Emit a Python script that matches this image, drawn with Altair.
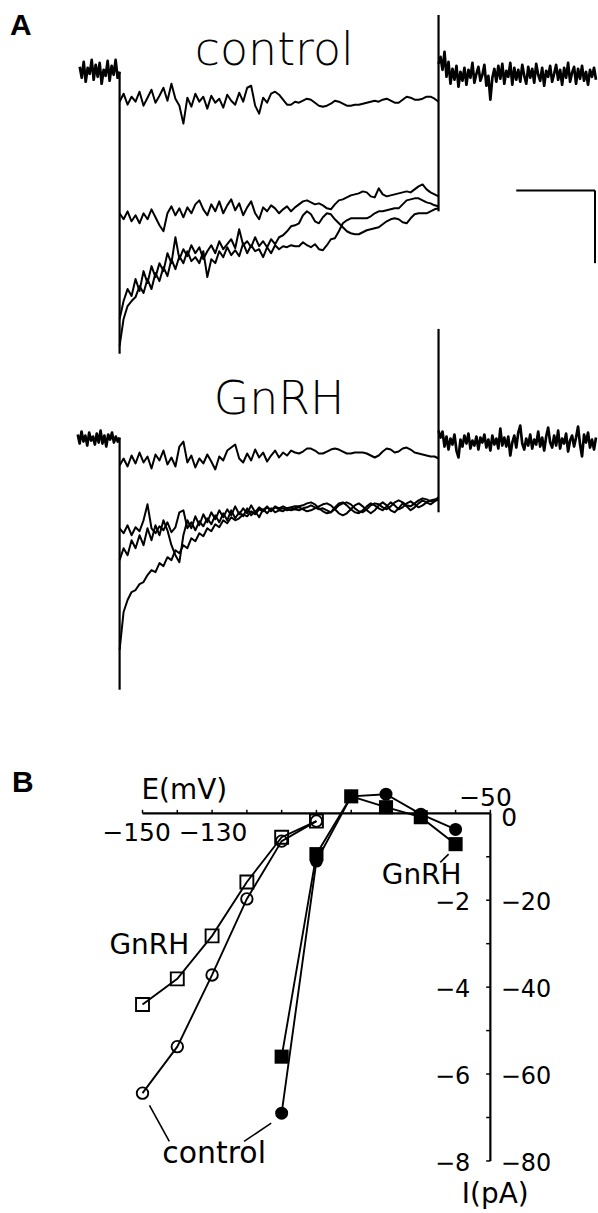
import altair as alt
import numpy as np
import pandas as pd

# ---------------- Panel A : digitised current sweeps (pA-like units) ----------------
# sweeps sampled every 5 ms during the 400 ms hyperpolarising step
ctl_sweep_1 = [-3.0,-2.2,-3.3,-2.5,-3.0,-2.0,-3.4,-2.6,-1.8,-3.1,
               -2.4,-1.6,-2.9,-1.2,-2.7,-3.4,-5.2,-2.6,-3.5,-2.2,
               -3.0,-2.5,-3.7,-2.4,-3.1,-2.7,-3.6,-2.3,-2.9,-3.3,
               -2.1,-3.0,-1.6,-1.4,-3.4,-4.2,-2.6,-3.1,-2.2,-2.0,
               -2.3,-2.8,-3.3,-3.3,-3.0,-3.1,-2.9,-2.7,-2.8,-3.1,
               -3.4,-3.5,-3.4,-3.2,-2.9,-3.0,-3.2,-3.4,-3.4,-3.3,
               -3.3,-3.2,-3.1,-3.0,-2.9,-3.0,-2.8,-2.7,-2.9,-3.1,
               -3.1,-2.8,-2.5,-2.6,-2.8,-2.8,-2.7,-2.5,-2.5,-2.7,
               -3.0]
ctl_sweep_2 = [-14.2,-14.8,-14.0,-15.0,-14.4,-15.2,-14.2,-14.8,-13.8,-14.6,
               -15.4,-16.0,-14.2,-13.5,-14.4,-13.7,-14.6,-13.6,-14.2,-13.3,
               -12.9,-13.8,-14.4,-13.3,-14.0,-13.0,-14.2,-13.4,-12.8,-13.9,
               -13.2,-14.4,-13.6,-13.0,-14.2,-14.8,-13.6,-14.0,-13.4,-13.7,
               -14.2,-13.8,-13.5,-14.0,-13.6,-13.3,-13.0,-12.9,-13.1,-13.3,
               -13.2,-13.4,-13.7,-13.8,-13.3,-12.9,-12.8,-12.6,-12.4,-12.3,
               -12.2,-12.0,-12.1,-12.5,-12.6,-11.7,-12.3,-12.5,-12.4,-12.3,
               -12.2,-12.1,-12.0,-12.1,-11.8,-11.5,-11.3,-11.8,-12.1,-12.3,
               -12.5]
ctl_sweep_3 = [-24.8,-23.0,-21.8,-22.5,-20.8,-22.0,-20.0,-21.2,-19.5,-20.6,
               -19.2,-20.0,-18.2,-19.2,-16.6,-18.8,-17.8,-18.5,-17.4,-18.2,
               -17.6,-18.8,-18.0,-17.4,-18.2,-17.0,-17.8,-17.3,-16.8,-17.7,
               -15.8,-17.4,-17.0,-17.6,-16.6,-17.5,-17.0,-17.6,-16.8,-17.3,
               -16.6,-16.4,-16.0,-15.5,-15.4,-15.2,-14.4,-14.0,-14.3,-15.0,
               -15.2,-14.6,-14.2,-14.3,-14.8,-15.2,-15.6,-16.0,-16.2,-16.3,
               -16.3,-16.1,-15.9,-15.8,-15.7,-15.6,-15.3,-15.0,-14.8,-14.7,
               -14.8,-15.1,-15.2,-14.7,-14.3,-14.2,-14.2,-14.2,-14.0,-13.8,
               -13.7]
ctl_sweep_4 = [-27.5,-24.8,-23.5,-23.0,-22.6,-21.5,-22.2,-20.8,-21.8,-20.2,
               -21.0,-19.6,-20.5,-18.8,-19.8,-18.5,-19.2,-18.0,-19.0,-18.6,
               -19.2,-18.0,-20.6,-18.8,-19.2,-18.0,-18.6,-17.6,-18.4,-17.9,
               -18.5,-17.2,-18.2,-17.4,-18.0,-17.8,-18.6,-17.6,-18.2,-17.4,
               -17.8,-17.5,-17.6,-17.4,-17.5,-17.5,-17.1,-17.4,-17.6,-17.3,
               -17.8,-17.9,-17.4,-16.8,-16.7,-16.0,-15.2,-14.9,-14.7,-14.7,
               -14.7,-14.7,-14.7,-14.5,-14.2,-14.0,-14.0,-13.9,-13.8,-13.7,
               -13.7,-13.3,-12.9,-12.8,-12.7,-12.7,-12.9,-13.1,-13.2,-13.4,
               -13.5]

gnrh_sweep_1 = [-2.5,-1.8,-2.6,-1.5,-2.3,-1.2,-2.2,-1.6,-2.8,-1.4,
                -2.0,-1.0,-2.4,-1.7,-2.6,-0.6,-0.1,-2.2,-1.5,-2.7,
                -1.8,-2.3,-1.4,-2.1,-2.9,-1.6,-2.0,-1.0,-0.7,-0.4,
                -1.8,-2.2,-1.3,-2.0,-0.9,-1.7,-1.2,-2.1,-1.5,-1.0,
                -1.7,-1.2,-1.5,-1.0,-1.2,-1.3,-1.1,-0.8,-0.8,-1.0,
                -1.3,-1.3,-1.1,-0.9,-0.8,-0.9,-1.1,-1.3,-1.3,-1.2,
                -1.2,-1.2,-1.3,-1.5,-1.7,-1.5,-1.1,-0.8,-0.9,-1.2,
                -1.1,-0.8,-0.7,-0.9,-1.2,-1.3,-1.4,-1.5,-1.6,-1.6,
                -1.8]
gnrh_sweep_2 = [-8.8,-9.3,-8.5,-9.5,-8.7,-9.1,-8.0,-6.4,-8.8,-9.3,
                -8.6,-9.0,-8.2,-9.2,-8.7,-7.2,-7.0,-8.8,-8.2,-9.0,
                -8.1,-8.6,-7.8,-8.4,-7.5,-8.2,-7.3,-8.0,-7.0,-7.8,
                -7.2,-7.6,-6.8,-7.5,-7.1,-7.7,-6.9,-7.3,-6.8,-7.2,
                -7.0,-7.1,-6.8,-7.0,-6.9,-7.0,-6.8,-6.7,-6.5,-6.7,
                -6.9,-6.8,-7.0,-7.2,-6.7,-6.3,-6.2,-6.5,-6.9,-7.2,
                -7.3,-7.0,-6.6,-6.3,-6.5,-6.8,-7.0,-6.6,-6.2,-6.5,
                -6.9,-6.7,-6.3,-6.1,-6.4,-6.7,-6.5,-6.2,-6.0,-5.9,
                -6.0]
gnrh_sweep_3 = [-12.0,-10.8,-11.5,-10.0,-10.8,-9.5,-10.5,-8.8,-10.0,-8.5,
                -9.5,-8.0,-9.0,-10.5,-11.5,-12.2,-9.5,-8.0,-8.8,-7.6,
                -8.5,-7.4,-8.2,-7.2,-7.9,-7.0,-7.7,-6.9,-7.5,-6.6,
                -7.4,-6.8,-7.3,-6.5,-7.2,-6.7,-7.0,-6.6,-7.1,-6.7,
                -6.9,-6.8,-7.0,-6.9,-6.8,-6.7,-6.9,-7.1,-7.0,-6.8,
                -6.6,-6.4,-6.3,-6.5,-6.9,-7.3,-7.5,-7.3,-6.9,-6.5,
                -6.3,-6.6,-7.0,-7.3,-7.0,-6.5,-6.2,-6.5,-7.0,-7.2,
                -6.8,-6.3,-6.6,-7.0,-6.7,-6.3,-6.0,-6.2,-6.4,-6.1,
                -5.9]
gnrh_sweep_4 = [-21.0,-17.2,-16.0,-15.2,-15.0,-14.4,-14.2,-13.5,-13.0,-13.2,
                -12.3,-12.6,-11.7,-12.0,-11.0,-11.3,-10.5,-10.8,-9.8,-10.1,
                -9.3,-9.6,-8.8,-9.1,-8.4,-8.7,-8.0,-8.3,-7.7,-8.0,
                -7.8,-7.4,-7.6,-7.1,-7.4,-6.9,-7.1,-6.7,-7.0,-6.6,
                -6.8,-6.6,-6.8,-6.7,-6.6,-6.6,-6.5,-6.3,-6.2,-6.4,
                -6.8,-7.1,-7.3,-7.2,-6.9,-6.5,-6.3,-6.2,-6.4,-6.8,
                -7.1,-7.2,-6.9,-6.5,-6.3,-6.4,-6.7,-6.9,-6.6,-6.2,
                -6.0,-6.2,-6.5,-6.6,-6.3,-6.0,-5.8,-5.9,-6.1,-6.0,
                -5.7]

# holding current before / after the step (2.5 ms sampling)
ctl_hold_pre = [0.5,-0.6,1.0,-1.0,0.4,-0.2,1.2,-0.8,0.7,-0.5,0.9,-1.2,0.2,-0.4,
                1.1,-0.9,0.6,-0.3,1.2,-0.6,0.0]
ctl_hold_post = [0.8,1.5,0.2,2.0,-0.5,1.0,-1.2,0.3,-0.8,0.6,-1.5,0.0,-0.9,0.4,-1.3,
                 0.2,-0.6,0.9,-1.1,-0.2,0.5,-0.9,-0.3,0.7,-1.4,-0.4,-2.8,-0.6,0.3,-1.0,
                 0.6,-0.7,0.8,-1.2,0.1,-0.5,0.9,-1.3,0.4,-0.8,0.2,-1.0,0.7,-0.4,-1.2,
                 0.5,-0.6,0.3,-1.1,0.8,-0.3,-0.9,0.4,-1.4,0.1,-0.5,0.6,-1.0,-0.2,0.7,
                 -0.8,0.2,-1.3,0.4,-0.6,0.9,-1.0,-0.1,0.5,-1.2,0.3,-0.7,0.6,-0.9,0.0,
                 -1.3,0.2,-0.5,0.4,-0.8]
gnrh_hold_pre = [0.6,-0.3,0.9,-0.1,0.5,-0.5,0.8,0.0,0.4,-0.4,0.7,-0.2,1.0,-0.3,0.5,
                 -0.6,0.6,0.1,0.8,-0.2,0.4,-0.1,0.3]
gnrh_hold_post = [1.0,0.3,0.9,-0.6,0.4,-0.9,0.2,-0.4,0.6,-1.0,-1.7,0.1,-0.6,0.5,-0.3,
                  0.7,-0.8,0.0,-0.5,0.4,-0.9,0.3,-0.2,0.6,-0.7,0.1,-1.0,0.5,-0.4,0.2,
                  -0.8,1.2,-0.5,0.3,-0.6,0.4,-1.5,-0.2,0.5,-0.7,0.8,1.5,-0.3,-0.9,0.2,
                  -0.5,0.6,-0.8,0.1,-0.4,0.9,-0.6,0.3,-1.0,0.4,1.3,-0.2,-0.7,0.5,-0.5,
                  1.0,-0.8,0.2,-0.3,0.7,-1.1,0.0,0.5,-0.6,0.3,1.4,-0.4,-1.6,0.6,-0.2,
                  0.8,-0.7,0.1,-0.9,0.3]

# capacitive transients at step onset (t=0) and offset (t=400): [low, high]
edge_t = [0, 400]
ctl_edge_lo = [-28.3, -14.0]
ctl_edge_hi = [0.0, 5.7]
gnrh_edge_lo = [-25.0, -7.2]
gnrh_edge_hi = [0.3, 11.2]

# calibration bar (100 ms horizontal)
bar_t = [497.5, 596.25]
bar_I = [-11.9, -19.2]

# ---------------- Panel B : I-V relations ----------------
E_open = [-150, -140, -130, -120, -110, -100]
I_open_gnrh = [-4.40, -3.81, -2.82, -1.58, -0.55, -0.18]
I_open_ctl = [-6.44, -5.37, -3.72, -1.97, -0.64, -0.18]
E_closed = [-110, -100, -90, -80, -70, -60]
I_closed_gnrh = [-5.60, -0.94, 0.39, 0.14, -0.09, -0.71]
I_closed_ctl = [-6.90, -1.10, 0.39, 0.44, -0.02, -0.37]

E_ticks = [-150, -140, -130, -120, -110, -100, -90, -80, -70, -60, -50]
I_ticks = [-1, -2, -3, -4, -5, -6, -7, -8]
I_left_labels = ["−2", "−4", "−6", "−8"]
I_left_vals = [-2, -4, -6, -8]
I_right_labels = ["−20", "−40", "−60", "−80"]

# ================= build Panel A =================
W = 598
xA = alt.Scale(domain=[-150, 597.5])
yC = alt.Scale(domain=[-67, 7])
yG = alt.Scale(domain=[-30, 44])


def trace_frame(sweeps, pre, post, pre_start, prefix):
    parts = []
    for k, vals in enumerate(sweeps):
        parts.append(pd.DataFrame({"t": np.linspace(0, 400, len(vals)), "I": vals,
                                   "sweep": f"{prefix}s{k}", "kind": "sweep"}))
    parts.append(pd.DataFrame({"t": np.linspace(pre_start, 0, len(pre)), "I": pre,
                               "sweep": f"{prefix}pre", "kind": "hold"}))
    parts.append(pd.DataFrame({"t": np.linspace(400, 597.5, len(post)), "I": post,
                               "sweep": f"{prefix}post", "kind": "hold"}))
    return pd.concat(parts, ignore_index=True)


def panel_a_layer(df, lo, hi, yscale, label, label_t, label_I, extra=None):
    enc = dict(x=alt.X("t:Q", scale=xA, axis=None),
               y=alt.Y("I:Q", scale=yscale, axis=None),
               detail="sweep:N", order="t:Q")
    sweeps = alt.Chart(df).transform_filter(alt.datum.kind == "sweep").mark_line(
        color="black", strokeWidth=2.0, strokeJoin="round").encode(**enc)
    holds = alt.Chart(df).transform_filter(alt.datum.kind == "hold").mark_line(
        color="black", strokeWidth=2.7, strokeJoin="round").encode(**enc)
    edges = alt.Chart(pd.DataFrame({"t": edge_t, "lo": lo, "hi": hi})).mark_rule(
        color="black", strokeWidth=2.2).encode(
        x=alt.X("t:Q", scale=xA, axis=None),
        y=alt.Y("lo:Q", scale=yscale, axis=None), y2="hi:Q")
    txt = alt.Chart(pd.DataFrame({"t": [label_t], "I": [label_I], "s": [label]})).mark_text(
        font="DejaVu Sans", fontWeight=200, fontSize=46, align="center",
        baseline="alphabetic", color="black").encode(
        x=alt.X("t:Q", scale=xA, axis=None),
        y=alt.Y("I:Q", scale=yscale, axis=None), text="s:N")
    layers = [sweeps, holds, edges, txt]
    if extra is not None:
        layers += extra
    return alt.layer(*layers)


ctl_df = trace_frame([ctl_sweep_1, ctl_sweep_2, ctl_sweep_3, ctl_sweep_4],
                     ctl_hold_pre, ctl_hold_post, -50, "c")
gnrh_df = trace_frame([gnrh_sweep_1, gnrh_sweep_2, gnrh_sweep_3, gnrh_sweep_4],
                      gnrh_hold_pre, gnrh_hold_post, -52.5, "g")

bar_df = pd.DataFrame({"t": [bar_t[0], bar_t[1]], "t2": [bar_t[1], bar_t[1]],
                       "I": [bar_I[0], bar_I[0]], "I2": [bar_I[0], bar_I[1]]})
bar = alt.Chart(bar_df).mark_rule(color="black", strokeWidth=2).encode(
    x=alt.X("t:Q", scale=xA, axis=None), x2="t2:Q",
    y=alt.Y("I:Q", scale=yC, axis=None), y2="I2:Q")

letterA = alt.Chart(pd.DataFrame({"t": [-137.5], "I": [3.7], "s": ["A"]})).mark_text(
    font="Liberation Sans", fontWeight="bold", fontSize=30, align="left",
    baseline="alphabetic", color="black").encode(
    x=alt.X("t:Q", scale=xA, axis=None),
    y=alt.Y("I:Q", scale=yC, axis=None), text="s:N")

ctl_layer = panel_a_layer(ctl_df, ctl_edge_lo, ctl_edge_hi, yC, "control", 194, 0.7,
                          extra=[bar, letterA])
gnrh_layer = panel_a_layer(gnrh_df, gnrh_edge_lo, gnrh_edge_hi, yG, "GnRH", 200, 2.7)

panelA = alt.layer(ctl_layer, gnrh_layer).resolve_scale(y="independent").properties(
    width=W, height=740)

# ================= build Panel B =================
xB = alt.Scale(domain=[-190.97, -19.63])
yB = alt.Scale(domain=[-9.151, 1.697])


def seg_chart(df, width=2):
    return alt.Chart(df).mark_rule(color="black", strokeWidth=width).encode(
        x=alt.X("E:Q", scale=xB, axis=None), x2="E2:Q",
        y=alt.Y("I:Q", scale=yB, axis=None), y2="I2:Q")


axes_df = pd.DataFrame({"E": [E_ticks[0], E_ticks[-1]], "E2": [E_ticks[-1], E_ticks[-1]],
                        "I": [0, 0], "I2": [0, I_ticks[-1]]})
xtick_df = pd.DataFrame({"E": E_ticks, "E2": E_ticks, "I": [0] * len(E_ticks),
                         "I2": [0.08] * len(E_ticks)})
ytick_df = pd.DataFrame({"E": [-50] * len(I_ticks), "E2": [-51.2] * len(I_ticks),
                         "I": I_ticks, "I2": I_ticks})
conn_df = pd.DataFrame({"E": [-64.4, -148.0, -113.0], "E2": [-62.0, -142.3, -120.8],
                        "I": [-1.13, -6.72, -7.13], "I2": [-0.94, -7.55, -7.55]})

iv_df = pd.concat([
    pd.DataFrame({"E": E_open, "I": I_open_ctl, "series": "open_ctl"}),
    pd.DataFrame({"E": E_open, "I": I_open_gnrh, "series": "open_gnrh"}),
    pd.DataFrame({"E": E_closed, "I": I_closed_ctl, "series": "closed_ctl"}),
    pd.DataFrame({"E": E_closed, "I": I_closed_gnrh, "series": "closed_gnrh"}),
], ignore_index=True)

iv_lines = alt.Chart(iv_df).mark_line(color="black", strokeWidth=1.9).encode(
    x=alt.X("E:Q", scale=xB, axis=None),
    y=alt.Y("I:Q", scale=yB, axis=None),
    detail="series:N", order="E:Q")


def pts(series, shape, filled, size):
    base = alt.Chart(iv_df).transform_filter(alt.datum.series == series)
    if filled:
        mk = base.mark_point(shape=shape, filled=True, color="black", size=size, opacity=1)
    else:
        mk = base.mark_point(shape=shape, filled=False, stroke="black", strokeWidth=1.9,
                             size=size, opacity=1)
    return mk.encode(x=alt.X("E:Q", scale=xB, axis=None),
                     y=alt.Y("I:Q", scale=yB, axis=None))


def btext(texts, Es, Is, align="left", size=25, weight="normal", font="DejaVu Sans",
          baseline="alphabetic", dy=0):
    df = pd.DataFrame({"E": Es, "I": Is, "s": texts})
    return alt.Chart(df).mark_text(font=font, fontSize=size, fontWeight=weight, align=align,
                                   baseline=baseline, dy=dy, color="black").encode(
        x=alt.X("E:Q", scale=xB, axis=None),
        y=alt.Y("I:Q", scale=yB, axis=None), text="s:N")


panelB = alt.layer(
    seg_chart(axes_df, 2.2),
    seg_chart(xtick_df, 1.5),
    seg_chart(ytick_df, 1.5),
    seg_chart(conn_df, 1.6),
    iv_lines,
    pts("open_ctl", "circle", False, 133),
    pts("open_gnrh", "square", False, 169),
    pts("closed_ctl", "circle", True, 170),
    pts("closed_gnrh", "square", True, 200),
    btext(["B"], [-187.5], [0.48], size=30, weight="bold", font="Liberation Sans"),
    btext(["E(mV)"], [-150.3], [0.34], size=28),
    btext(["−150", "−130"], [-151.7, -129.7], [-0.64, -0.64], align="center", size=25),
    btext(["−50"], [-51.4], [0.16], align="center", size=25),
    btext(["0"], [-46.9], [-0.30], size=25),
    btext(I_left_labels, [-55.8] * 4, I_left_vals, align="right", size=24,
          baseline="middle", dy=3),
    btext(I_right_labels, [-47.0] * 4, I_left_vals, align="left", size=24,
          baseline="middle", dy=3),
    btext(["I(pA)"], [-48.6], [-8.97], align="center", size=28),
    btext(["GnRH"], [-159.5], [-3.23], size=28),
    btext(["GnRH"], [-81.2], [-1.63], size=28),
    btext(["control"], [-144.3], [-8.05], size=30),
).properties(width=W, height=473)

chart = alt.vconcat(panelA, panelB, spacing=0).properties(
    padding=0, background="white").configure_view(stroke=None)

chart.save("out.html", embed_options={"renderer": "svg", "actions": False})
